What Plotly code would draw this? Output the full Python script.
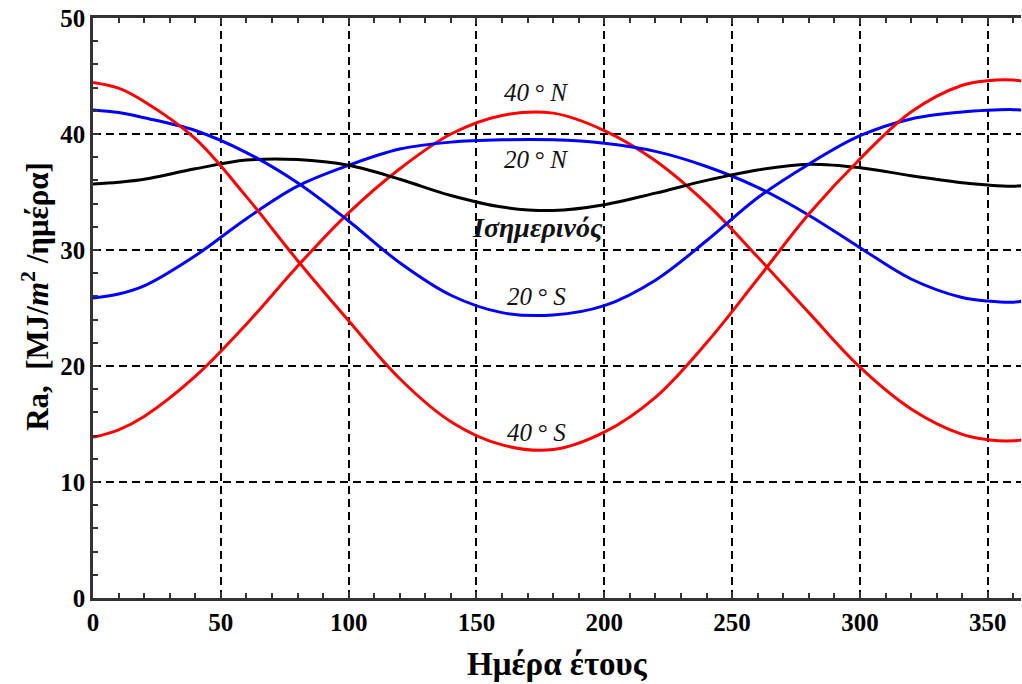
import plotly.graph_objects as go

# ---- data ----
days = [0, 10, 20, 40, 60, 80, 100, 120, 140, 160, 180, 200, 220, 240, 260, 280, 300, 320, 340, 350, 360, 365]

ra_40N = [13.85, 14.5, 15.65, 19.1, 23.6, 28.6, 33.2, 37.0, 40.0, 41.6, 41.8, 40.3, 37.7, 34.0, 29.4, 24.6, 19.9, 16.3, 14.1, 13.65, 13.55, 13.7]
ra_20N = [25.86, 26.2, 26.9, 29.5, 32.7, 35.5, 37.3, 38.7, 39.3, 39.5, 39.5, 39.2, 38.5, 37.2, 35.4, 33.0, 30.2, 27.5, 25.9, 25.6, 25.5, 25.65]
ra_eq = [35.7, 35.85, 36.1, 37.0, 37.75, 37.8, 37.3, 36.1, 34.7, 33.7, 33.4, 33.9, 34.9, 36.0, 36.9, 37.4, 37.1, 36.4, 35.8, 35.6, 35.5, 35.6]
ra_20S = [42.07, 41.85, 41.4, 40.3, 38.4, 35.8, 32.5, 28.9, 26.1, 24.6, 24.4, 25.2, 27.4, 30.8, 34.5, 37.4, 39.85, 41.3, 41.9, 42.05, 42.1, 42.05]
ra_40S = [44.45, 43.95, 42.8, 39.6, 34.6, 29.1, 23.9, 18.9, 15.2, 13.2, 12.8, 14.3, 17.3, 22.0, 27.5, 33.1, 37.85, 41.9, 44.2, 44.6, 44.65, 44.5]

series = [
    ("40° N", ra_40N, "#ff0000"),
    ("20° N", ra_20N, "#0000ff"),
    ("Ισημερινός", ra_eq, "#000000"),
    ("20° S", ra_20S, "#0000ff"),
    ("40° S", ra_40S, "#ff0000"),
]

x_ticks = [0, 50, 100, 150, 200, 250, 300, 350]
y_ticks = [0, 10, 20, 30, 40, 50]

labels = [
    ("40\u2009°\u00a0N", 173.4, 43.6, False),
    ("20\u2009°\u00a0N", 173.4, 37.8, False),
    ("Ισημερινός", 173.8, 31.9, True),
    ("20\u2009°\u00a0S", 173.4, 25.95, False),
    ("40\u2009°\u00a0S", 173.4, 14.3, False),
]

SERIF = "Liberation Serif, Times New Roman, serif"
AXC = "#333333"

fig = go.Figure()
for name, vals, col in series:
    fig.add_trace(go.Scatter(
        x=days, y=vals, mode="lines", name=name,
        line=dict(color=col, width=3, shape="spline", smoothing=1.0),
        showlegend=False, hoverinfo="skip",
    ))

for txt, x, y, bold in labels:
    t = f"<b><i>{txt}</i></b>" if bold else f"<i>{txt}</i>"
    fig.add_annotation(
        x=x, y=y, xref="x", yref="y", text=t, showarrow=False,
        font=dict(family=SERIF, size=28 if bold else 25, color="#111111"),
        xanchor="center", yanchor="middle",
    )

# axis titles as annotations
fig.add_annotation(
    x=0.5, y=-0.114, xref="paper", yref="paper",
    text="<b>Ημέρα έτους</b>", showarrow=False,
    font=dict(family=SERIF, size=33, color="#000000"),
    xanchor="center", yanchor="middle",
)
fig.add_annotation(
    x=-0.062, y=0.52, xref="paper", yref="paper",
    text="<b>Ra,  [MJ/<i>m</i><sup>2</sup> /ημέρα]</b>", showarrow=False,
    textangle=-90,
    font=dict(family=SERIF, size=31, color="#000000"),
    xanchor="center", yanchor="middle",
)

fig.update_layout(
    width=1022, height=684,
    margin=dict(l=93, r=1, t=18, b=86),
    paper_bgcolor="white", plot_bgcolor="white",
    xaxis=dict(
        range=[0, 363], tickvals=x_ticks, ticktext=[str(v) for v in x_ticks],
        showgrid=True, gridcolor="#000000", gridwidth=1.6, griddash="8px,5px",
        zeroline=False,
        showline=True, linecolor=AXC, linewidth=2.5, mirror="ticks",
        ticks="inside", ticklen=6, tickwidth=1.5, tickcolor=AXC,
        minor=dict(dtick=10, tick0=0, ticks="inside", ticklen=5, tickwidth=1.5,
                   tickcolor=AXC, showgrid=False),
        tickfont=dict(family=SERIF, size=25, color="#000000", weight="bold"),
        ticklabelstandoff=0,
    ),
    yaxis=dict(
        range=[0, 50], tickvals=y_ticks, ticktext=[str(v) for v in y_ticks],
        showgrid=True, gridcolor="#000000", gridwidth=1.6, griddash="8px,5px",
        zeroline=False,
        showline=True, linecolor=AXC, linewidth=2.5, mirror=False,
        ticks="inside", ticklen=6, tickwidth=1.5, tickcolor=AXC,
        minor=dict(dtick=2, tick0=0, ticks="inside", ticklen=5, tickwidth=1.5,
                   tickcolor=AXC, showgrid=False),
        tickfont=dict(family=SERIF, size=25, color="#000000", weight="bold"),
        ticklabelstandoff=0,
    ),
)

fig.write_html("out.html")
